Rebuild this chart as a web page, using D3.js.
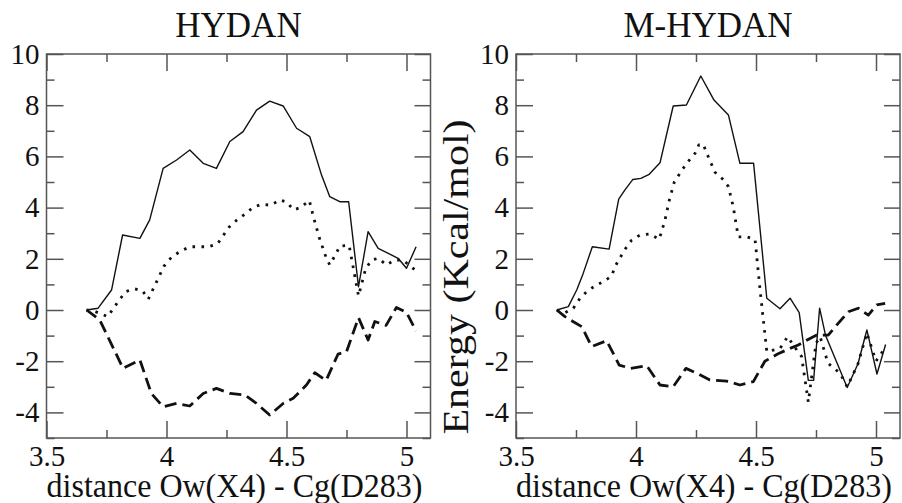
<!DOCTYPE html>
<html>
<head>
<meta charset="utf-8">
<script src="https://cdn.jsdelivr.net/npm/d3@7"></script>
<style>
  body { margin: 0; background: #fff; }
  svg { display: block; }
  text { font-family: "Liberation Serif", "DejaVu Serif", serif; fill: #111; }
</style>
</head>
<body>
<svg width="902" height="503"></svg>
<script>
var width = 902
var height = 503

// HYDAN panel
var hydanTotalX = [3.667, 3.715, 3.771, 3.817, 3.889, 3.930, 3.986, 4.042, 4.097, 4.153, 4.208, 4.264, 4.319, 4.375, 4.430, 4.486, 4.542, 4.597, 4.646, 4.680, 4.722, 4.759, 4.800, 4.840, 4.882, 4.965, 5.000, 5.040]
var hydanTotalY = [0, 0.07, 0.78, 2.93, 2.80, 3.52, 5.53, 5.86, 6.25, 5.73, 5.53, 6.58, 6.97, 7.81, 8.16, 7.97, 7.10, 6.77, 5.27, 4.43, 4.23, 4.23, 0.91, 3.06, 2.41, 2.02, 1.63, 2.47]

var hydanDotX = [3.667, 3.700, 3.755, 3.800, 3.830, 3.865, 3.900, 3.924, 3.990, 4.020, 4.055, 4.097, 4.175, 4.212, 4.260, 4.290, 4.326, 4.361, 4.396, 4.435, 4.472, 4.500, 4.530, 4.560, 4.595, 4.612, 4.636, 4.664, 4.680, 4.705, 4.722, 4.761, 4.800, 4.830, 4.855, 4.882, 4.917, 4.950, 4.985, 5.035]
var hydanDotY = [0, -0.05, -0.26, 0.35, 0.72, 0.83, 0.75, 0.42, 1.72, 2.05, 2.28, 2.47, 2.47, 2.58, 3.23, 3.49, 3.74, 4.01, 4.13, 4.09, 4.30, 4.22, 3.91, 4.01, 4.28, 3.65, 2.84, 2.08, 1.76, 2.17, 2.50, 2.52, 0.55, 1.62, 1.95, 2.02, 1.76, 1.95, 1.95, 1.57]

var hydanDashX = [3.667, 3.722, 3.819, 3.889, 3.937, 3.986, 4.042, 4.097, 4.153, 4.208, 4.264, 4.326, 4.375, 4.430, 4.486, 4.528, 4.583, 4.618, 4.665, 4.715, 4.750, 4.800, 4.840, 4.868, 4.915, 4.958, 5.000, 5.040]
var hydanDashY = [0, -0.39, -2.28, -1.95, -3.26, -3.78, -3.65, -3.75, -3.26, -3.06, -3.26, -3.32, -3.65, -4.10, -3.65, -3.45, -2.93, -2.45, -2.75, -1.72, -1.63, -0.30, -1.17, -0.45, -0.60, 0.10, -0.10, -0.82]

// M-HYDAN panel
var mhydanTotalX = [3.670, 3.718, 3.753, 3.780, 3.818, 3.888, 3.928, 3.954, 3.987, 4.020, 4.055, 4.100, 4.155, 4.210, 4.270, 4.325, 4.385, 4.433, 4.490, 4.545, 4.600, 4.642, 4.680, 4.718, 4.740, 4.765, 4.790, 4.880, 4.925, 4.962, 5.004, 5.040]
var mhydanTotalY = [0, 0.13, 0.78, 1.43, 2.47, 2.38, 4.33, 4.69, 5.10, 5.14, 5.30, 5.75, 7.97, 8.01, 9.14, 8.20, 7.62, 5.73, 5.73, 0.46, 0.05, 0.46, -0.10, -2.75, -2.75, 0.07, -1.00, -3.03, -2.10, -0.78, -2.50, -1.35]

var mhydanDotX = [3.670, 3.705, 3.739, 3.767, 3.795, 3.829, 3.864, 3.899, 3.912, 3.954, 3.982, 4.017, 4.056, 4.097, 4.121, 4.139, 4.160, 4.183, 4.211, 4.246, 4.262, 4.280, 4.295, 4.329, 4.364, 4.385, 4.405, 4.426, 4.461, 4.496, 4.517, 4.545, 4.600, 4.632, 4.655, 4.690, 4.718, 4.750, 4.767, 4.800, 4.850, 4.880, 4.925, 4.962, 5.000, 5.040]
var mhydanDotY = [0, -0.10, 0.07, 0.46, 0.72, 0.94, 1.11, 1.33, 1.69, 2.37, 2.73, 2.93, 2.97, 2.76, 3.52, 4.30, 5.01, 5.34, 5.73, 6.12, 6.45, 6.48, 6.12, 5.38, 5.09, 4.82, 4.04, 2.86, 2.86, 2.76, 0.78, -1.63, -1.50, -1.04, -1.37, -1.82, -3.60, -1.30, -1.04, -2.08, -2.47, -3.00, -2.10, -0.90, -2.00, -1.45]

var mhydanDashX = [3.670, 3.704, 3.739, 3.774, 3.815, 3.878, 3.930, 3.978, 4.045, 4.100, 4.155, 4.208, 4.253, 4.308, 4.378, 4.433, 4.489, 4.537, 4.590, 4.642, 4.676, 4.725, 4.753, 4.801, 4.836, 4.885, 4.926, 4.968, 5.003, 5.038]
var mhydanDashY = [0, -0.26, -0.46, -0.65, -1.43, -1.20, -2.15, -2.28, -2.18, -2.93, -3.00, -2.28, -2.47, -2.73, -2.78, -2.93, -2.80, -2.00, -1.72, -1.50, -1.37, -1.11, -0.98, -0.98, -0.59, -0.07, 0.07, -0.20, 0.20, 0.26]

var xMajorTicks = [3.5, 4, 4.5, 5]
var xMinorTicks = [3.75, 4.25, 4.75]
var yMajorTicks = [-4, -2, 0, 2, 4, 6, 8, 10]
var yMinorTicks = [-5, -3, -1, 1, 3, 5, 7, 9]

var panelTitles = ["HYDAN", "M-HYDAN"]
var xLabel = "distance Ow(X4) - Cg(D283)"
var yLabel = "Energy (Kcal/mol)"

function zipUp(xs, ys) {
  return xs.map(function(x, i) { return [x, ys[i]] })
}

var panels = [
  { title: panelTitles[0], left: 46.5, series: [
    { pts: zipUp(hydanTotalX, hydanTotalY), kind: "solid" },
    { pts: zipUp(hydanDotX, hydanDotY), kind: "dot" },
    { pts: zipUp(hydanDashX, hydanDashY), kind: "dash" } ] },
  { title: panelTitles[1], left: 516, series: [
    { pts: zipUp(mhydanTotalX, mhydanTotalY), kind: "solid" },
    { pts: zipUp(mhydanDotX, mhydanDotY), kind: "dot" },
    { pts: zipUp(mhydanDashX, mhydanDashY), kind: "dash" } ] }
]

var plotW = 384
var plotTop = 54, plotBottom = 438   // "top" is taken by window.top

var svg = d3.select("svg")

var y = d3.scaleLinear().domain([-5, 10]).range([plotBottom, plotTop])

panels.forEach(function(p) {
  var x = d3.scaleLinear().domain([3.5, 5.1]).range([p.left, p.left + plotW])
  var g = svg.append("g")
  var fmt = function(d) { return String(d) }

  // ticks pointing inward on all four sides
  g.append("g").attr("transform", "translate(0," + plotBottom + ")")
    .call(d3.axisBottom(x).tickValues(xMajorTicks).tickSizeInner(-17).tickSizeOuter(0).tickPadding(7).tickFormat(fmt))
  g.append("g").attr("transform", "translate(0," + plotBottom + ")")
    .call(d3.axisBottom(x).tickValues(xMinorTicks).tickSizeInner(-8).tickSizeOuter(0).tickFormat(""))
  g.append("g").attr("transform", "translate(0," + plotTop + ")")
    .call(d3.axisTop(x).tickValues(xMajorTicks).tickSizeInner(-17).tickSizeOuter(0).tickFormat(""))
  g.append("g").attr("transform", "translate(0," + plotTop + ")")
    .call(d3.axisTop(x).tickValues(xMinorTicks).tickSizeInner(-8).tickSizeOuter(0).tickFormat(""))
  g.append("g").attr("transform", "translate(" + p.left + ",0)")
    .call(d3.axisLeft(y).tickValues(yMajorTicks).tickSizeInner(-17).tickSizeOuter(0).tickPadding(7).tickFormat(fmt))
  g.append("g").attr("transform", "translate(" + p.left + ",0)")
    .call(d3.axisLeft(y).tickValues(yMinorTicks).tickSizeInner(-8).tickSizeOuter(0).tickFormat(""))
  g.append("g").attr("transform", "translate(" + (p.left + plotW) + ",0)")
    .call(d3.axisRight(y).tickValues(yMajorTicks).tickSizeInner(-16).tickSizeOuter(0).tickFormat(""))
  g.append("g").attr("transform", "translate(" + (p.left + plotW) + ",0)")
    .call(d3.axisRight(y).tickValues(yMinorTicks).tickSizeInner(-8).tickSizeOuter(0).tickFormat(""))

  g.selectAll(".domain").remove()
  g.selectAll(".tick line").attr("stroke", "#555").attr("stroke-width", 1.5)
  g.selectAll(".tick text").attr("font-size", 29).attr("fill", "#111")
    .attr("font-family", "Liberation Serif, serif")

  // frame
  g.append("rect")
    .attr("x", p.left).attr("y", plotTop)
    .attr("width", plotW).attr("height", plotBottom - plotTop)
    .attr("fill", "none").attr("stroke", "#555").attr("stroke-width", 1.5)

  var line = d3.line().x(function(d) { return x(d[0]) }).y(function(d) { return y(d[1]) })

  p.series.forEach(function(s) {
    var path = g.append("path").datum(s.pts)
      .attr("d", line).attr("fill", "none").attr("stroke", "#111")
      .attr("stroke-linejoin", "round")
    if (s.kind === "solid") {
      path.attr("stroke-width", 1.4)
    } else if (s.kind === "dot") {
      path.attr("stroke-width", 2.8).attr("stroke-dasharray", "2.6 6.4")
    } else {
      path.attr("stroke-width", 2.8).attr("stroke-dasharray", "12 6")
    }
  })

  g.append("text")
    .attr("x", p.left + plotW / 2).attr("y", 37)
    .attr("text-anchor", "middle").attr("font-size", 35)
    .text(p.title)

  g.append("text")
    .attr("transform", "translate(" + (p.left + plotW / 2 - 4) + ",497) scale(1,1.06)")
    .attr("text-anchor", "middle").attr("font-size", 32)
    .text(xLabel)
})

svg.append("text")
  .attr("transform", "translate(468,277) rotate(-90) scale(1.2,1)")
  .attr("text-anchor", "middle").attr("font-size", 35)
  .text(yLabel)
</script>
</body>
</html>
